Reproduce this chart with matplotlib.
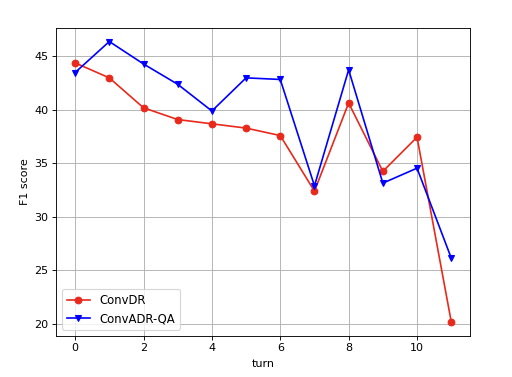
import matplotlib
matplotlib.use("Agg")
import matplotlib.pyplot as plt

turns = list(range(12))
convdr = [44.4, 43.0, 40.2, 39.1, 38.7, 38.3, 37.6, 32.4, 40.65, 34.25, 37.45, 20.2]
convadr_qa = [43.5, 46.4, 44.3, 42.4, 39.9, 43.0, 42.85, 32.9, 43.75, 33.15, 34.55, 26.15]

fig = plt.figure(figsize=(6.4, 4.7125), dpi=80)
ax = fig.add_axes([0.110, 0.110, 0.808, 0.817])
ax.plot(turns, convdr, marker='o', color='#e8291c', label='ConvDR')
ax.plot(turns, convadr_qa, marker='v', color='blue', label='ConvADR-QA')
ax.set_xlabel('turn', labelpad=5)
ax.set_ylabel('F1 score')
ax.grid(True)
ax.legend(loc='lower left', fontsize=10.5, labelspacing=0.45)
fig.savefig('out.png', dpi=80)
